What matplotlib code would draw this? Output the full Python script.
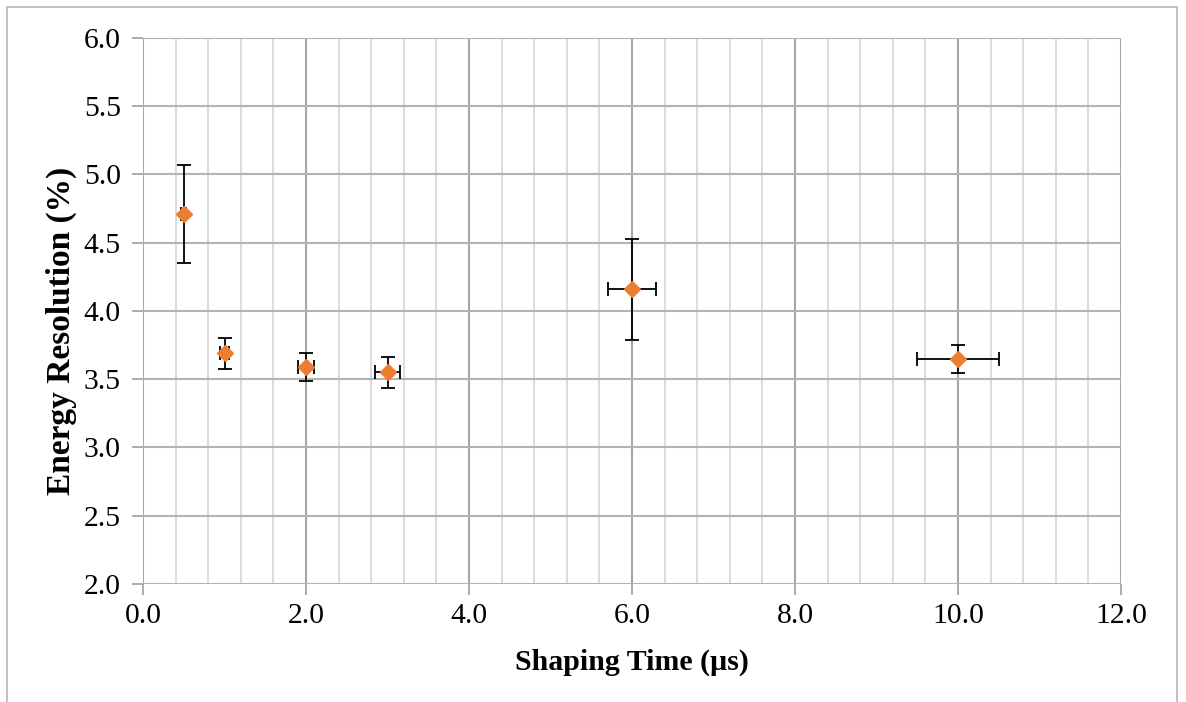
import numpy as np
import matplotlib.pyplot as plt
import matplotlib
from matplotlib.patches import Rectangle
from matplotlib.ticker import MultipleLocator

matplotlib.rcParams['font.family'] = 'serif'
matplotlib.rcParams['font.serif'] = ['Liberation Serif', 'DejaVu Serif']

# shaping time (us) vs energy resolution (%)
shaping = [0.5, 1.0, 2.0, 3.0, 6.0, 10.0]
shaping_err = [0.03, 0.06, 0.1, 0.15, 0.3, 0.5]
resolution = [4.71, 3.69, 3.59, 3.55, 4.16, 3.65]
resolution_err = [0.36, 0.113, 0.105, 0.113, 0.37, 0.104]

fig = plt.figure(figsize=(11.86, 7.02), dpi=100)
ax = fig.add_axes([0.1206, 0.1681, 0.8246, 0.7778])

# chart area frame (open at the bottom)
fig.patches.append(Rectangle((7 / 1186, -0.05), 1170 / 1186, 1.05 - 7 / 702,
                             transform=fig.transFigure, fill=False,
                             edgecolor='#bcbcbc', linewidth=1.3))

ax.set_xlim(0, 12)
ax.set_ylim(2.0, 6.0)
ax.xaxis.set_major_locator(MultipleLocator(2))
ax.xaxis.set_minor_locator(MultipleLocator(0.4))
ax.yaxis.set_major_locator(MultipleLocator(0.5))
ax.xaxis.set_major_formatter(matplotlib.ticker.FormatStrFormatter('%.1f'))
ax.yaxis.set_major_formatter(matplotlib.ticker.FormatStrFormatter('%.1f'))

ax.grid(which='minor', axis='x', color='#d9d9d9', linewidth=1.3)
ax.grid(which='major', axis='x', color='#a6a6a6', linewidth=1.5)
ax.grid(which='major', axis='y', color='#b3b3b3', linewidth=1.5)
ax.set_axisbelow(True)
for s in ax.spines.values():
    s.set_visible(False)
ax.tick_params(which='major', length=8, width=1.3, color='#a6a6a6',
               labelsize=21.3, pad=8)
ax.tick_params(axis='x', pad=6)
ax.tick_params(which='minor', length=0)

ax.errorbar(shaping, resolution, xerr=shaping_err, yerr=resolution_err,
            fmt='none', ecolor='black', elinewidth=1.3, capsize=4.7,
            capthick=1.3, zorder=3)
ax.plot(shaping, resolution, linestyle='none', marker='D', markersize=8.5,
        color='#ed7d31', zorder=4)

ax.set_xlabel('Shaping Time (µs)', fontsize=21.5, fontweight='bold', labelpad=14)
fig.text(61 / 1186, 1 - 331 / 702, 'Energy Resolution (%)', rotation=90,
         ha='center', va='center', fontsize=24, fontweight='bold')

plt.savefig('out.png', dpi=100)
